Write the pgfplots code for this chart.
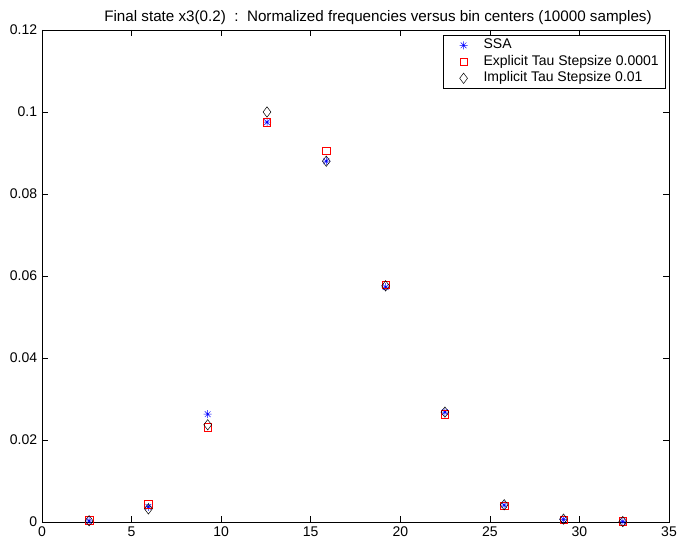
\documentclass[border=0pt]{standalone}
\usepackage{fontspec}
\setmainfont{Liberation Sans}
\usepackage{pgfplots}
\pgfplotsset{compat=1.18}
\pgfdeclareplotmark{mstar}{%
  \pgfpathmoveto{\pgfqpoint{-\pgfplotmarksize}{0pt}}%
  \pgfpathlineto{\pgfqpoint{\pgfplotmarksize}{0pt}}%
  \pgfpathmoveto{\pgfqpoint{0pt}{-\pgfplotmarksize}}%
  \pgfpathlineto{\pgfqpoint{0pt}{\pgfplotmarksize}}%
  \pgfpathmoveto{\pgfqpoint{-0.707\pgfplotmarksize}{-0.707\pgfplotmarksize}}%
  \pgfpathlineto{\pgfqpoint{0.707\pgfplotmarksize}{0.707\pgfplotmarksize}}%
  \pgfpathmoveto{\pgfqpoint{-0.707\pgfplotmarksize}{0.707\pgfplotmarksize}}%
  \pgfpathlineto{\pgfqpoint{0.707\pgfplotmarksize}{-0.707\pgfplotmarksize}}%
  \pgfusepathqstroke}
\pgfplotsset{
  mylegimg/.style={legend image code/.code={%
    \path[draw=none] (-16bp,-1bp) rectangle (17bp,1bp);
    \draw[##1] plot coordinates {(0bp,0bp)};}},
}
\begin{document}
\fontsize{14bp}{16bp}\selectfont
\begin{tikzpicture}
\useasboundingbox (0,0) rectangle (678bp,548bp);
\begin{axis}[
  at={(42bp,26bp)}, anchor=south west,
  scale only axis, width=627bp, height=492bp,
  xmin=0, xmax=35, ymin=0, ymax=0.12,
  xtick={0,5,...,35},
  ytick={0,0.02,0.04,0.06,0.08,0.1,0.12},
  tick align=inside, major tick length=6bp,
  /pgf/number format/assume math mode=true,
  yticklabel style={/pgf/number format/fixed,/pgf/number format/precision=2},
  scaled y ticks=false,
  axis line style={line width=0.6pt},
  tick style={line width=0.6pt, black},
  legend cell align=left,
  legend style={at={(1,1)}, xshift=-3bp, yshift=-5bp, anchor=north east,
    draw=black, line width=0.6pt, inner xsep=4bp, inner ysep=1.75bp,
    nodes={text height=10bp, text depth=3bp, inner ysep=1.75bp, inner xsep=3bp}},
]
\addplot[only marks, mylegimg, mark=mstar, blue, mark size=4bp, line width=0.5pt] coordinates {
(2.63,0.0003) (5.94,0.0037) (9.25,0.0263) (12.56,0.0975) (15.87,0.0880)
(19.18,0.0573) (22.49,0.0268) (25.80,0.0041) (29.11,0.0006) (32.42,0.0001)};
\addlegendentry{SSA}
\addplot[only marks, mylegimg, mark=square, red, mark size=3.7bp, line width=0.5pt] coordinates {
(2.63,0.0004) (5.94,0.0043) (9.25,0.0231) (12.56,0.0975) (15.87,0.0906)
(19.18,0.0578) (22.49,0.0263) (25.80,0.0040) (29.11,0.0005) (32.42,0.0002)};
\addlegendentry{Explicit Tau Stepsize 0.0001}
\addplot[only marks, mylegimg, mark=diamond, black, mark size=5.2bp, line width=0.5pt] coordinates {
(2.63,0.0003) (5.94,0.0032) (9.25,0.0237) (12.56,0.1000) (15.87,0.0880)
(19.18,0.0576) (22.49,0.0268) (25.80,0.0042) (29.11,0.0007) (32.42,0.0001)};
\addlegendentry{Implicit Tau Stepsize 0.01}
\end{axis}
\node[anchor=base, font=\fontsize{15.2bp}{18bp}\selectfont] at (378bp,526bp) {Final state x3(0.2)\ \ :\ \ Normalized frequencies versus bin centers (10000 samples)};
\end{tikzpicture}
\end{document}
